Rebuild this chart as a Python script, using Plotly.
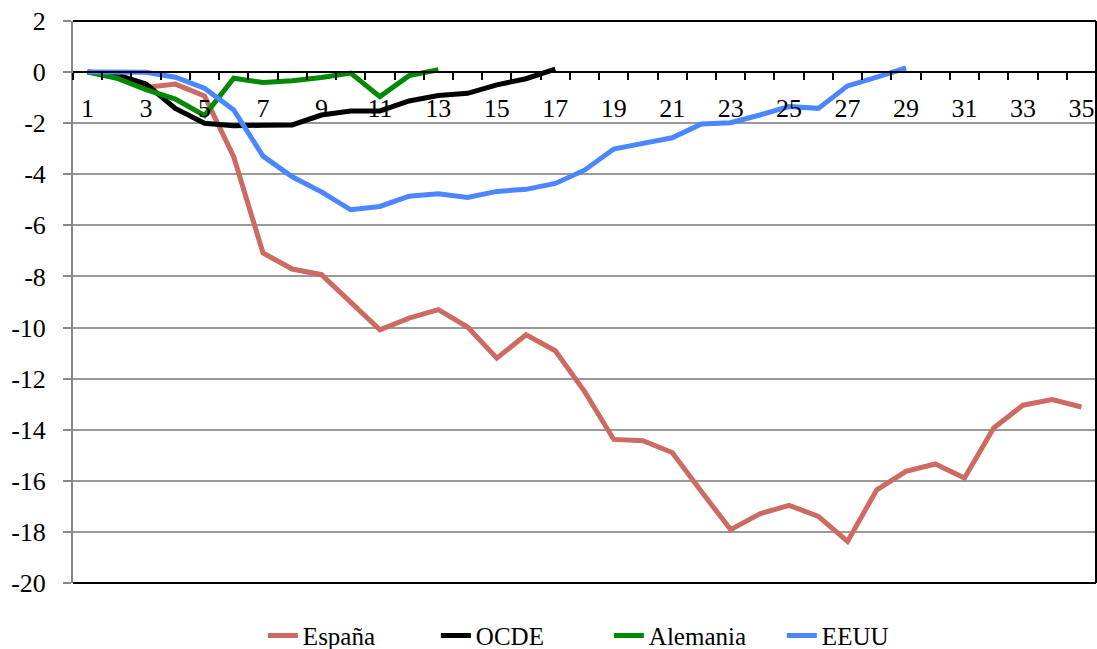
import plotly.graph_objects as go

periods = list(range(1, 36))

espana = [0, -0.15, -0.6, -0.47, -0.93, -3.32, -7.08, -7.71, -7.93, -8.98,
          -10.09, -9.63, -9.30, -9.98, -11.2, -10.28, -10.91, -12.5, -14.38, -14.43,
          -14.89, -16.42, -17.91, -17.29, -16.96, -17.39, -18.37, -16.35, -15.63, -15.34,
          -15.89, -13.93, -13.04, -12.82, -13.11]
ocde = [0, -0.1, -0.47, -1.42, -2.0, -2.1, -2.08, -2.07, -1.68, -1.52,
        -1.52, -1.13, -0.92, -0.83, -0.5, -0.26, 0.12]
alemania = [0, -0.24, -0.69, -1.06, -1.7, -0.24, -0.41, -0.34, -0.21, -0.04,
            -0.96, -0.14, 0.09]
eeuu = [0, 0.0, -0.01, -0.2, -0.63, -1.48, -3.29, -4.1, -4.69, -5.39,
        -5.26, -4.86, -4.76, -4.91, -4.67, -4.59, -4.36, -3.84, -3.01, -2.79,
        -2.57, -2.03, -1.98, -1.68, -1.35, -1.42, -0.54, -0.2, 0.16]

series_names = ["España", "OCDE", "Alemania", "EEUU"]
series_values = [espana, ocde, alemania, eeuu]
series_colors = ["#CD6A62", "#000000", "#008A00", "#4A86FF"]

x_label_vals = list(range(1, 36, 2))
x_label_text = [str(v) for v in x_label_vals]
x_boundaries = [v + 0.5 for v in range(0, 36)]
y_tick_vals = list(range(-20, 3, 2))
y_tick_text = [str(v) for v in y_tick_vals]

FONT = "Liberation Serif"

fig = go.Figure()
for name, vals, col in zip(series_names, series_values, series_colors):
    fig.add_trace(go.Scatter(
        x=periods[:len(vals)], y=vals, mode="lines", name=name,
        line=dict(color=col, width=5),
    ))

y_min, y_max = -20, 2
zero_pos = (0 - y_min) / (y_max - y_min)

fig.update_layout(
    width=1097, height=649,
    margin=dict(l=73, r=1, t=21, b=66, autoexpand=False),
    paper_bgcolor="white", plot_bgcolor="white",
    font=dict(family=FONT, size=25, color="black"),
    showlegend=True,
    legend=dict(orientation="h", x=0.1856, xanchor="left", y=-0.094, yanchor="middle",
                font=dict(family=FONT, size=25, color="black"),
                entrywidth=128, entrywidthmode="pixels", tracegroupgap=0),
    xaxis=dict(
        range=[0.5, 35.5], anchor="free", position=zero_pos, automargin=False,
        showline=True, linecolor="black", linewidth=2,
        showgrid=False, zeroline=False,
        tickmode="array", tickvals=x_label_vals, ticktext=x_label_text,
        ticks="outside", ticklen=13, tickcolor="rgba(0,0,0,0)",
        tickfont=dict(family=FONT, size=26, color="black"),
        minor=dict(tickmode="array", tickvals=x_boundaries, ticks="outside",
                   ticklen=7, tickcolor="black", tickwidth=1.5, showgrid=False),
    ),
    yaxis=dict(
        range=[y_min, y_max], automargin=False,
        tickmode="array", tickvals=y_tick_vals, ticktext=y_tick_text,
        showline=True, linecolor="#888888", linewidth=2,
        ticks="outside", ticklen=8, tickcolor="#888888", tickwidth=1.5,
        showgrid=True, gridcolor="#999999", gridwidth=1.5, zeroline=False,
        ticklabelstandoff=12,
        tickfont=dict(family=FONT, size=26, color="black"),
    ),
    shapes=[
        dict(type="line", xref="paper", yref="paper", x0=0, x1=1, y0=1, y1=1,
             line=dict(color="black", width=2)),
        dict(type="line", xref="paper", yref="paper", x0=0, x1=1, y0=0, y1=0,
             line=dict(color="black", width=2)),
        dict(type="line", xref="paper", yref="paper", x0=1, x1=1, y0=0, y1=1,
             line=dict(color="black", width=2)),
    ],
)

fig.write_html("out.html", config={"displayModeBar": False},
               post_script="document.body.style.margin='0';document.body.style.padding='0';")
